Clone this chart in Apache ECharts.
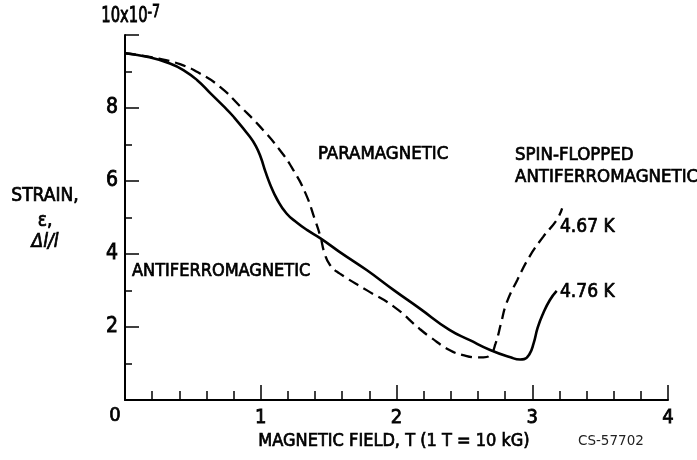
<!DOCTYPE html>
<html>
<head>
<meta charset="utf-8">
<script src="https://cdn.jsdelivr.net/npm/echarts@6/dist/echarts.min.js"></script>
<style>html,body{margin:0;padding:0;background:#fff}#c{width:697px;height:460px}</style>
</head>
<body>
<div id="c"></div>
<script>
// Solid curve: 4.76 K
var solidX = [0, 0.18, 0.33, 0.43, 0.53, 0.63, 0.72, 0.80, 0.92, 0.965, 1.00, 1.035, 1.07, 1.12, 1.19, 1.27, 1.34, 1.44, 1.58, 1.78, 1.98, 2.17, 2.39, 2.54, 2.69, 2.84, 2.91, 2.94, 2.98, 3.01, 3.04, 3.08, 3.13, 3.18];
var solidY = [9.5, 9.39, 9.22, 9.04, 8.77, 8.40, 8.07, 7.76, 7.21, 6.95, 6.65, 6.25, 5.90, 5.50, 5.11, 4.85, 4.66, 4.43, 4.06, 3.56, 3.01, 2.51, 1.92, 1.64, 1.37, 1.17, 1.11, 1.12, 1.26, 1.55, 1.98, 2.37, 2.74, 2.99];
// Dashed curve: 4.67 K
var dashX = [0, 0.12, 0.25, 0.405, 0.55, 0.70, 0.85, 0.995, 1.14, 1.24, 1.33, 1.40, 1.44, 1.47, 1.51, 1.58, 1.78, 1.98, 2.17, 2.25, 2.39, 2.49, 2.59, 2.64, 2.69, 2.73, 2.77, 2.81, 2.89, 2.98, 3.08, 3.18, 3.22];
var dashY = [9.5, 9.44, 9.35, 9.20, 8.95, 8.58, 8.04, 7.49, 6.85, 6.30, 5.66, 4.93, 4.47, 4.02, 3.70, 3.47, 3.01, 2.56, 1.95, 1.72, 1.37, 1.23, 1.17, 1.17, 1.23, 1.55, 2.10, 2.65, 3.29, 3.93, 4.47, 4.93, 5.25];
var seriesNames = ['4.76 K', '4.67 K'];
var xTickLabels = ['0', '1', '2', '3', '4'];
var yTickLabels = ['0', '2', '4', '6', '8', '10x10'];
var yExponent = '-7';
var regionLabels = ['PARAMAGNETIC', 'ANTIFERROMAGNETIC', 'SPIN-FLOPPED\nANTIFERROMAGNETIC'];
var xName = 'MAGNETIC FIELD, T (1 T = 10 kG)';
var yNameLines = ['STRAIN,', 'ε,', 'Δl/l'];
var figureId = 'CS-57702';

var FONT = '"DejaVu Sans Condensed", "Liberation Sans Narrow", sans-serif';
function zip(a, b) { return a.map(function (v, i) { return [v, b[i]]; }); }
function txt(o, s) {
  var st = {fontFamily: FONT, fontSize: 19, fill: '#000', stroke: '#000', lineWidth: 0.7};
  for (var k in s) st[k] = s[k];
  o.type = 'text'; o.style = st; return o;
}

var chart = echarts.init(document.getElementById('c'), null, {renderer: 'canvas'});
chart.setOption({
  backgroundColor: '#fff',
  animation: false,
  grid: {left: 125, right: 29, top: 35, bottom: 60, containLabel: false},
  xAxis: {
    type: 'value', min: 0, max: 4, interval: 1,
    axisLine: {lineStyle: {color: '#000', width: 2}},
    axisTick: {inside: true, length: 15, lineStyle: {color: '#000', width: 1.5}},
    minorTick: {show: true, splitNumber: 5, length: 9, lineStyle: {color: '#000', width: 1.5}},
    splitLine: {show: false},
    axisLabel: {margin: 8, fontFamily: FONT, fontSize: 20, color: '#000', textBorderColor: '#000', textBorderWidth: 0.8,
      formatter: function (v) { var i = Math.round(v); return i === 0 ? '' : xTickLabels[i]; }}
  },
  yAxis: {
    type: 'value', min: 0, max: 10, interval: 2,
    axisLine: {lineStyle: {color: '#000', width: 2}},
    axisTick: {inside: true, length: 14, lineStyle: {color: '#000', width: 1.5}},
    minorTick: {show: true, splitNumber: 2, length: 7, lineStyle: {color: '#000', width: 1.5}},
    splitLine: {show: false},
    axisLabel: {margin: 7, fontFamily: FONT, fontSize: 21, color: '#000', textBorderColor: '#000', textBorderWidth: 0.8,
      formatter: function (v) { var i = Math.round(v / 2); return (i === 0 || i === 5) ? '' : yTickLabels[i]; }}
  },
  series: [
    {name: seriesNames[0], type: 'line', data: zip(solidX, solidY), showSymbol: false, smooth: 0.5,
      lineStyle: {color: '#000', width: 2.6, type: 'solid'}},
    {name: seriesNames[1], type: 'line', data: zip(dashX, dashY), showSymbol: false, smooth: 0.5,
      lineStyle: {color: '#000', width: 2.3, type: [11, 6]}}
  ],
  graphic: [
    {type: 'text', left: 101, top: 3, scaleX: 0.78, style: {text: '{a|' + yTickLabels[5] + '}{b|' + yExponent + '}', rich: {
      a: {fontFamily: FONT, fontSize: 21, fill: '#000', stroke: '#000', lineWidth: 0.8, verticalAlign: 'bottom', lineHeight: 24},
      b: {fontFamily: FONT, fontSize: 18, fill: '#000', stroke: '#000', lineWidth: 0.8, verticalAlign: 'top', lineHeight: 24, padding: [0, 0, 10, 0]}}}},
    txt({left: 109, top: 405}, {text: xTickLabels[0], fontSize: 20}),
    txt({x: 318, y: 145}, {text: regionLabels[0], fontSize: 18.5}),
    txt({x: 132, y: 262}, {text: regionLabels[1], fontSize: 18}),
    txt({x: 515, y: 144}, {text: regionLabels[2], fontSize: 18.5, lineHeight: 22}),
    txt({x: 560, y: 218}, {text: seriesNames[1], fontSize: 19}),
    txt({x: 560, y: 283}, {text: seriesNames[0], fontSize: 19}),
    txt({x: 45, y: 187}, {text: yNameLines[0], align: 'center'}),
    txt({x: 45, y: 212}, {text: yNameLines[1], align: 'center'}),
    txt({x: 45, y: 233}, {text: yNameLines[2], fontStyle: 'italic', align: 'center'}),
    txt({x: 394, y: 432}, {text: xName, fontSize: 18, align: 'center'}),
    {type: 'text', left: 578, top: 434, style: {text: figureId, fontFamily: '"DejaVu Sans", sans-serif', fontSize: 13.5, fill: '#222'}}
  ]
});
</script>
</body>
</html>
